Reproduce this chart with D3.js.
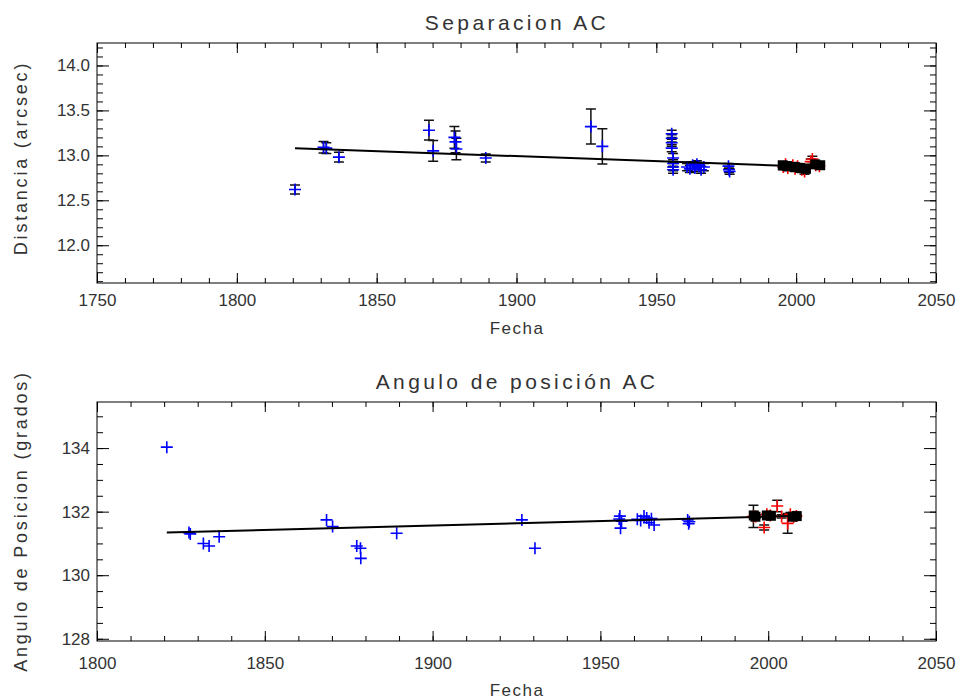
<!DOCTYPE html>
<html>
<head>
<meta charset="utf-8">
<script src="https://cdn.jsdelivr.net/npm/d3@7"></script>
<style>
  body { margin: 0; background: #fff; }
  svg text { font-family: 'Liberation Sans', Arial, sans-serif; fill: #333; }
</style>
</head>
<body>
<div id="chart"></div>
<script>
// ---- Separacion AC (arcsec) ----
// historic measures, blue crosses with black error bars
const sepYears = [1820.8, 1831.0, 1832.0, 1836.5, 1868.7, 1870.2, 1877.8, 1878.2, 1878.5, 1889.0,
  1926.6, 1930.7, 1955.5, 1955.5, 1955.5, 1955.5, 1956.0, 1956.0, 1956.0, 1956.0,
  1961.0, 1962.0, 1963.0, 1963.8, 1964.5, 1965.2, 1966.0, 1967.0, 1975.8, 1976.0, 1976.2];
const sepValues = [12.62, 13.09, 13.08, 12.98, 13.28, 13.05, 13.20, 13.15, 13.07, 12.97,
  13.32, 13.10, 13.24, 13.19, 13.14, 13.08, 12.97, 12.91, 12.87, 12.84,
  12.87, 12.85, 12.89, 12.86, 12.90, 12.88, 12.84, 12.87, 12.88, 12.84, 12.82];
const sepErrors = [0.05, 0.065, 0.06, 0.055, 0.11, 0.115, 0.12, 0.12, 0.12, 0.045,
  0.195, 0.195, 0.04, 0.04, 0.04, 0.04, 0.05, 0.04, 0.04, 0.04,
  0.04, 0.04, 0.04, 0.04, 0.04, 0.04, 0.04, 0.04, 0.03, 0.03, 0.03];
// recent measures, red crosses
const sepRecentYears = [1995.4, 1996.2, 1997.0, 1998.8, 1999.6, 2000.5, 2002.0, 2003.0, 2005.2, 2005.8, 2007.0, 2008.3];
const sepRecentValues = [12.87, 12.90, 12.86, 12.89, 12.85, 12.88, 12.84, 12.82, 12.93, 12.96, 12.89, 12.88];
const sepRecentErrors = [0.03, 0.03, 0.03, 0.03, 0.03, 0.03, 0.03, 0.03, 0.03, 0.03, 0.03, 0.03];
// black squares
const sepBoxYears = [1995.2, 1996.8, 1999.5, 2001.5, 2003.5, 2006.8, 2008.6];
const sepBoxValues = [12.89, 12.88, 12.87, 12.86, 12.85, 12.90, 12.89];
// fitted line
const sepFitYears = [1820.8, 2008.6];
const sepFitValues = [13.08, 12.87];
const sepXTicks = [1750, 1800, 1850, 1900, 1950, 2000, 2050];
const sepYTicks = [12.0, 12.5, 13.0, 13.5, 14.0];

// ---- Angulo de posicion AC (grados) ----
const paYears = [1820.8, 1827.4, 1827.8, 1831.7, 1833.4, 1836.4, 1868.4, 1870.2, 1877.4, 1878.5,
  1878.6, 1889.3, 1926.6, 1930.5, 1955.6, 1955.8, 1956.0, 1956.3, 1961.0, 1962.0,
  1963.0, 1963.8, 1964.5, 1965.2, 1966.0, 1976.0, 1976.3, 1976.5];
const paValues = [134.03, 131.34, 131.30, 131.00, 130.92, 131.21, 131.74, 131.53, 130.92, 130.85,
  130.53, 131.32, 131.74, 130.85, 131.77, 131.86, 131.48, 131.70, 131.76, 131.72,
  131.86, 131.80, 131.65, 131.78, 131.58, 131.74, 131.62, 131.68];
const paRecentYears = [1995.6, 1996.3, 1998.8, 1999.6, 2000.6, 2002.7, 2004.0, 2005.8, 2006.6, 2007.6, 2008.4];
const paRecentValues = [131.85, 131.85, 131.50, 131.92, 131.88, 132.18, 131.85, 131.63, 131.92, 131.84, 131.86];
const paRecentErrors = [0.35, 0.05, 0.08, 0.05, 0.05, 0.18, 0.05, 0.31, 0.05, 0.05, 0.05];
const paBoxYears = [1995.7, 1996.2, 1999.6, 2000.8, 2007.3, 2008.5];
const paBoxValues = [131.88, 131.84, 131.88, 131.87, 131.84, 131.86];
const paFitYears = [1820.8, 2008.5];
const paFitValues = [131.34, 131.87];
const paXTicks = [1800, 1850, 1900, 1950, 2000, 2050];
const paYTicks = [128, 130, 132, 134];

const svg = d3.select('#chart').append('svg')
  .attr('width', 964)
  .attr('height', 700);

const crossPath = (px, py, r) => `M${px - r},${py}H${px + r}M${px},${py - r}V${py + r}`;

const strip = s => {
  s.select('.domain').remove();
  s.selectAll('line').attr('stroke', '#000');
  s.selectAll('text').attr('font-family', null).attr('font-size', 17).attr('fill', '#333');
};

const drawPanel = cfg => {
  const x = d3.scaleLinear().domain(cfg.xDomain).range([97, 936]);
  const y = d3.scaleLinear().domain(cfg.yDomain).range([cfg.bottom, cfg.top]);
  const g = svg.append('g');

  // minor ticks on all four sides
  g.append('g').attr('transform', `translate(0,${cfg.bottom})`)
    .call(d3.axisBottom(x).tickValues(cfg.xMinor).tickSize(-5).tickFormat('')).call(strip);
  g.append('g').attr('transform', `translate(0,${cfg.top})`)
    .call(d3.axisTop(x).tickValues(cfg.xMinor).tickSize(-5).tickFormat('')).call(strip);
  g.append('g').attr('transform', 'translate(97,0)')
    .call(d3.axisLeft(y).tickValues(cfg.yMinor).tickSize(-6).tickFormat('')).call(strip);
  g.append('g').attr('transform', 'translate(936,0)')
    .call(d3.axisRight(y).tickValues(cfg.yMinor).tickSize(-6).tickFormat('')).call(strip);

  // major ticks
  g.append('g').attr('transform', `translate(0,${cfg.bottom})`)
    .call(d3.axisBottom(x).tickValues(cfg.xTicks).tickSize(-10).tickPadding(cfg.xPad).tickFormat(d3.format('d')))
    .call(strip);
  g.append('g').attr('transform', `translate(0,${cfg.top})`)
    .call(d3.axisTop(x).tickValues(cfg.xTicks).tickSize(-10).tickFormat('')).call(strip);
  g.append('g').attr('transform', 'translate(97,0)')
    .call(d3.axisLeft(y).tickValues(cfg.yTicks).tickSize(-12).tickPadding(7).tickFormat(cfg.yFormat))
    .call(strip);
  g.append('g').attr('transform', 'translate(936,0)')
    .call(d3.axisRight(y).tickValues(cfg.yTicks).tickSize(-12).tickFormat('')).call(strip);

  g.append('rect')
    .attr('x', 97).attr('y', cfg.top)
    .attr('width', 936 - 97).attr('height', cfg.bottom - cfg.top)
    .attr('fill', 'none').attr('stroke', '#000').attr('stroke-width', 1);

  // error bars
  const bars = g.append('g').attr('stroke', '#111').attr('stroke-width', 1.5).attr('fill', 'none');
  cfg.errSets.forEach(set => {
    set.years.forEach((yr, i) => {
      const px = x(yr);
      const lo = y(set.values[i] - set.errors[i]);
      const hi = y(set.values[i] + set.errors[i]);
      bars.append('path').attr('d', `M${px},${lo}V${hi}M${px - 5},${lo}H${px + 5}M${px - 5},${hi}H${px + 5}`);
    });
  });

  // crosses
  cfg.crossSets.forEach(set => {
    g.append('g').selectAll('path')
      .data(set.years)
      .enter()
      .append('path')
      .attr('d', (d, i) => crossPath(x(d), y(set.values[i]), 6))
      .attr('stroke', set.color)
      .attr('stroke-width', 1.6)
      .attr('fill', 'none');
  });

  // black squares
  g.append('g').selectAll('rect')
    .data(cfg.boxYears)
    .enter()
    .append('rect')
    .attr('x', d => x(d) - 5)
    .attr('y', (d, i) => y(cfg.boxValues[i]) - 5)
    .attr('width', 10)
    .attr('height', 10)
    .attr('fill', '#000');

  // fit
  g.append('path')
    .datum(cfg.fitYears.map((d, i) => [d, cfg.fitValues[i]]))
    .attr('d', d3.line().x(d => x(d[0])).y(d => y(d[1])))
    .attr('stroke', '#000')
    .attr('stroke-width', 2)
    .attr('fill', 'none');

  // titles
  svg.append('text')
    .attr('x', 517).attr('y', cfg.top - 13)
    .attr('text-anchor', 'middle')
    .attr('font-size', 21)
    .attr('letter-spacing', 3.4)
    .text(cfg.title);
  svg.append('text')
    .attr('x', 517).attr('y', cfg.bottom + cfg.fechaOffset)
    .attr('text-anchor', 'middle')
    .attr('font-size', 17)
    .attr('letter-spacing', 1.5)
    .text('Fecha');
  svg.append('text')
    .attr('transform', `translate(27,${cfg.yLabelCenter}) rotate(-90)`)
    .attr('text-anchor', 'middle')
    .attr('font-size', 18)
    .attr('letter-spacing', 2.8)
    .text(cfg.yLabel);
};

drawPanel({
  title: 'Separacion AC',
  yLabel: 'Distancia (arcsec)',
  yLabelCenter: 158,
  top: 43,
  bottom: 283,
  xPad: 11,
  fechaOffset: 51,
  xDomain: [1750, 2050],
  yDomain: [11.58, 14.25],
  xTicks: sepXTicks,
  xMinor: d3.range(1750, 2051, 10),
  yTicks: sepYTicks,
  yMinor: d3.range(11.6, 14.25, 0.1),
  yFormat: d3.format('.1f'),
  errSets: [
    { years: sepYears, values: sepValues, errors: sepErrors },
    { years: sepRecentYears, values: sepRecentValues, errors: sepRecentErrors }
  ],
  crossSets: [
    { years: sepYears, values: sepValues, color: '#0000ff' },
    { years: sepRecentYears, values: sepRecentValues, color: '#ff0000' }
  ],
  boxYears: sepBoxYears,
  boxValues: sepBoxValues,
  fitYears: sepFitYears,
  fitValues: sepFitValues
});

drawPanel({
  title: 'Angulo de posición AC',
  yLabel: 'Angulo de Posicion (grados)',
  yLabelCenter: 521,
  top: 402,
  bottom: 641,
  xPad: 16,
  fechaOffset: 55,
  xDomain: [1800, 2050],
  yDomain: [127.93, 135.45],
  xTicks: paXTicks,
  xMinor: d3.range(1800, 2051, 10),
  yTicks: paYTicks,
  yMinor: d3.range(128, 135.45, 0.5),
  yFormat: d3.format('d'),
  errSets: [
    { years: paRecentYears, values: paRecentValues, errors: paRecentErrors }
  ],
  crossSets: [
    { years: paYears, values: paValues, color: '#0000ff' },
    { years: paRecentYears, values: paRecentValues, color: '#ff0000' }
  ],
  boxYears: paBoxYears,
  boxValues: paBoxValues,
  fitYears: paFitYears,
  fitValues: paFitValues
});
</script>
</body>
</html>
